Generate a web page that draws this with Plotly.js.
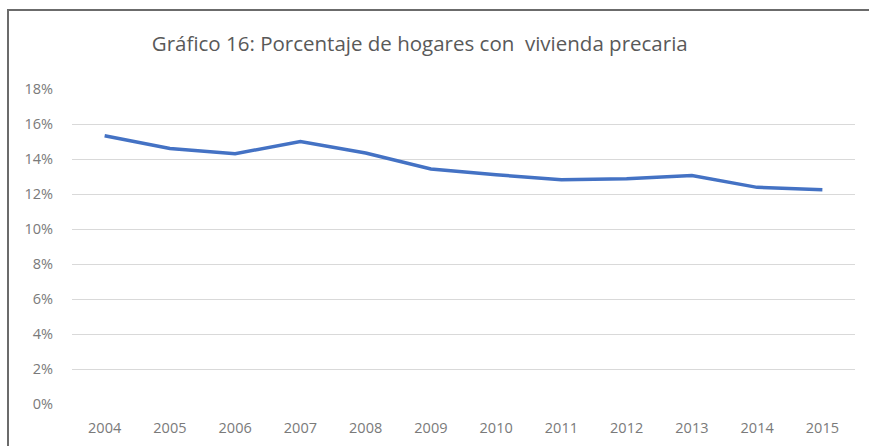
<!DOCTYPE html>
<html><head><meta charset="utf-8">
<script src="https://cdn.plot.ly/plotly-3.0.1.min.js"></script>
<style>
html,body{margin:0;padding:0;background:#fff;}
#wrap{position:relative;width:869px;height:446px;overflow:hidden;}
#chart{position:absolute;left:0;top:0;width:869px;height:446px;}
#frame{position:absolute;left:7px;top:9px;width:900px;height:500px;border-left:2px solid #6b6b6b;border-top:2px solid #6b6b6b;pointer-events:none;}
</style></head>
<body><div id="wrap"><div id="chart"></div><div id="frame"></div></div>
<script>
const years = ["2004","2005","2006","2007","2008","2009","2010","2011","2012","2013","2014","2015"];
const pctHogares = [0.1533,0.146,0.143,0.150,0.1434,0.1343,0.131,0.1282,0.1287,0.1306,0.1238,0.1225];
const yTicks = [0,0.02,0.04,0.06,0.08,0.10,0.12,0.14,0.16,0.18];
const titleText = "Gráfico 16: Porcentaje de hogares con&nbsp; vivienda precaria";

const trace = {x: years, y: pctHogares, type: 'scatter', mode: 'lines',
  line: {color: '#4472C4', width: 3.5}, hoverinfo: 'x+y'};

const tickFont = {family: 'Open Sans, sans-serif', size: 14.5, color: '#7a7a7a'};
const layout = {
  width: 869, height: 446,
  margin: {l: 72, r: 14, t: 89, b: 42},
  paper_bgcolor: '#ffffff', plot_bgcolor: '#ffffff',
  showlegend: false,
  title: {text: titleText, x: 0.483, xref: 'container', xanchor: 'center',
          y: 1 - 44/446, yref: 'container', yanchor: 'middle',
          font: {family: 'Open Sans, sans-serif', size: 20.5, color: '#595959'}},
  xaxis: {type: 'category', range: [-0.5, 11.5], showgrid: false, zeroline: false, showline: false,
          ticks: '', ticklabelstandoff: 13, tickfont: tickFont},
  yaxis: {range: [0, 0.18], tickvals: yTicks, tickformat: '.0%', showgrid: true,
          gridcolor: '#d9d9d9', gridwidth: 1, zeroline: false, showline: false, ticks: '',
          ticklabelstandoff: 18, tickfont: tickFont}
};
Plotly.newPlot('chart', [trace], layout, {displayModeBar: false, staticPlot: true});
</script></body></html>
